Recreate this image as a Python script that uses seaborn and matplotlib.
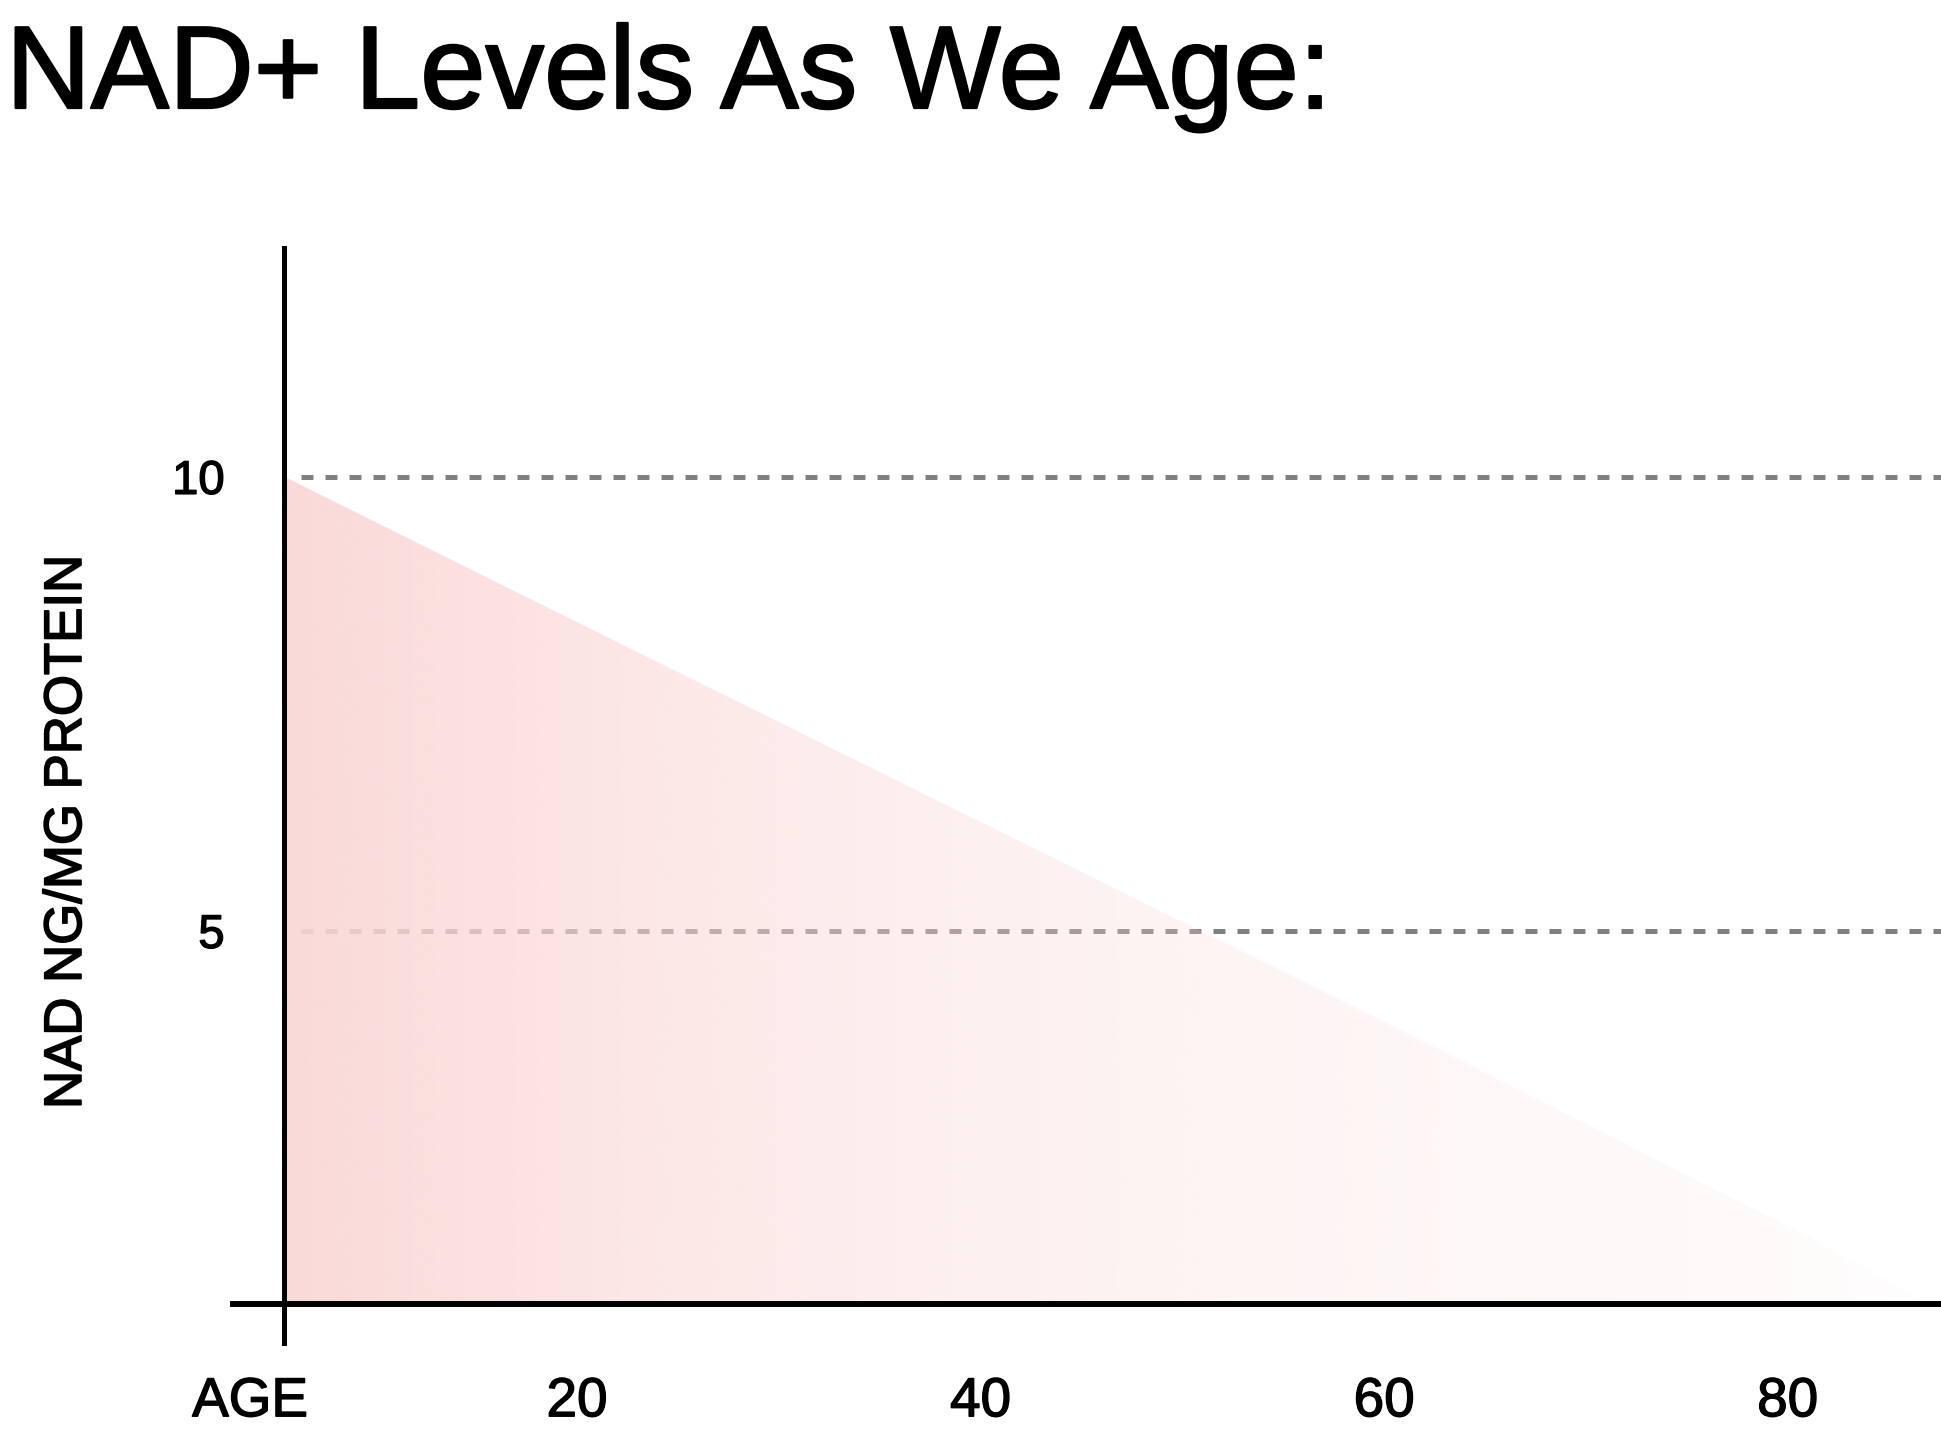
import numpy as np
import pandas as pd
import matplotlib.pyplot as plt
import matplotlib.patheffects as pe
import seaborn as sns
from matplotlib.colors import to_rgb

# values
ages = [5.5, 20, 40, 60, 80, 87.0]
nad_levels = [10.0, 8.4, 6.2, 4.0, 1.75, 0.9]
y_ticks = [5, 10]
y_tick_labels = ["5", "10"]
x_ticks = [3.8, 20, 40, 60, 80]
x_tick_labels = ["AGE", "20", "40", "60", "80"]

# fade of the pink fill from left to right (style only)
fade_x = [5.5, 21, 36, 48, 65, 80, 87.0]
fade_alpha = [0.93, 0.62, 0.40, 0.29, 0.18, 0.10, 0.04]
fill_color = "#FAD7D5"
grid_color = "#808080"

sns.set_theme(style="white")
plt.rcParams['font.family'] = ['Liberation Sans', 'DejaVu Sans']

W, H = 1941, 1435
fig = plt.figure(figsize=(W / 100, H / 100), dpi=100)
ax = fig.add_axes([233 / W, 1 - 1304 / H, 1 - 233 / W, (1304 - 248) / H])

df = pd.DataFrame({"age": ages, "nad": nad_levels})
y_floor = 0.892

# gradient fill clipped to the area under the curve
poly = ax.fill_between(df["age"], df["nad"], y_floor, facecolor="none", edgecolor="none")
xs = np.linspace(df["age"].min(), df["age"].max(), 600)
rgba = np.zeros((1, len(xs), 4))
rgba[..., :3] = to_rgb(fill_color)
rgba[..., 3] = np.interp(xs, fade_x, fade_alpha)
im = ax.imshow(rgba, extent=[xs[0], xs[-1], y_floor, df["nad"].max()],
               aspect="auto", origin="lower", interpolation="bilinear", zorder=2)
im.set_clip_path(poly.get_paths()[0], transform=ax.transData)

# dashed reference lines, under the fill
for yv in y_ticks:
    ax.axhline(yv, xmin=(301 - 233) / (W - 233), color=grid_color, lw=3.6,
               ls=(0, (2.4, 2.4)), zorder=1)

ax.set_xlim(2.95, 87.6)
ax.set_ylim(y_floor, 12.52)

sns.despine(ax=ax, top=True, right=True)
ax.spines["left"].set_position(("data", 5.5))
ax.spines["left"].set_bounds(0.46, 12.52)
ax.spines["left"].set_linewidth(3.6)
ax.spines["left"].set_color("black")
ax.spines["bottom"].set_linewidth(4.3)
ax.spines["bottom"].set_color("black")
ax.spines["left"].set_zorder(5)
ax.spines["bottom"].set_zorder(5)

ax.set_yticks(y_ticks)
ax.set_yticklabels(y_tick_labels)
ax.set_xticks(x_ticks)
ax.set_xticklabels(x_tick_labels)
ax.tick_params(axis="y", length=0, pad=43, labelsize=34, labelcolor="black")
ax.tick_params(axis="x", length=0, pad=52, labelsize=39.5, labelcolor="black")
ax.set_xlabel("")
ax.set_ylabel("")
ax.grid(False)

# slightly heavier strokes to mimic the medium weight of the reference
medium = [pe.withStroke(linewidth=1.0, foreground="black")]
for lbl in ax.get_xticklabels() + ax.get_yticklabels():
    lbl.set_path_effects(medium)

fig.text(67 / W, 1 - 832 / H, "NAD NG/MG PROTEIN", rotation=90,
         ha="center", va="center", fontsize=38, color="black",
         path_effects=[pe.withStroke(linewidth=1.2, foreground="black")])
fig.text(6 / W, 1 - 108 / H, "NAD+ Levels As We Age:", ha="left",
         va="baseline", fontsize=84.5, color="black",
         path_effects=[pe.withStroke(linewidth=1.6, foreground="black")])

fig.savefig("out.png", dpi=100, facecolor="white")
